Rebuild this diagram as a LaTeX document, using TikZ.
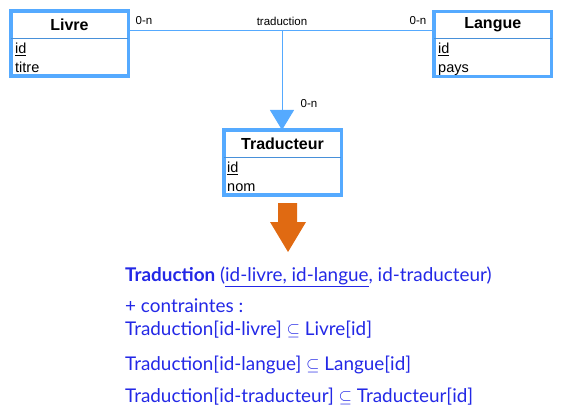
\documentclass[tikz,border=0pt]{standalone}
\usepackage{fontspec}
\setmainfont{Liberation Sans}
\newfontfamily\gill{Lato}
\usetikzlibrary{arrows.meta}

\definecolor{bleu}{RGB}{85,170,255}
\definecolor{bleutexte}{RGB}{35,40,230}
\definecolor{orange}{RGB}{224,106,18}

\tikzset{
  entite/.style={draw=bleu, line width=3.5pt, fill=white, minimum width=117.5pt,
    minimum height=65pt, inner sep=0pt, outer sep=0pt},
  titre/.style={font=\fontsize{16}{18}\selectfont\bfseries, inner sep=0pt},
  attr/.style={font=\fontsize{14.5}{18.5}\selectfont, align=left, inner sep=0pt, anchor=north west},
  separ/.style={draw=bleu!85!black, line width=1.2pt},
  lien/.style={draw=bleu, line width=1pt},
  card/.style={font=\fontsize{11.5}{13}\selectfont, inner sep=0pt},
  relat/.style={font=\gill\fontsize{18.9}{22}\selectfont, text=bleutexte, inner sep=0pt, anchor=base west}
}

\begin{document}
\begin{tikzpicture}[x=1pt,y=-1pt]
  \useasboundingbox (0,0) rectangle (567,414);

  % les trois entites
  \node[entite] (livre) at (69.5,43.75) {};
  \node[titre] (livre-titre) at ([yshift=-13.5pt]livre.north) {Livre};
  \draw[separ] ([yshift=-27.25pt]livre.north west) -- ([yshift=-27.25pt]livre.north east);
  \node[attr] (livre-attr) at (15,43) {\underline{id}\\titre};

  \node[entite] (langue) at (492.75,44) {};
  \node[titre] (langue-titre) at ([yshift=-13.5pt]langue.north) {Langue};
  \draw[separ] ([yshift=-27.25pt]langue.north west) -- ([yshift=-27.25pt]langue.north east);
  \node[attr] (langue-attr) at (438,43) {\underline{id}\\pays};

  \node[entite] (traducteur) at (282.5,162.5) {};
  \node[titre] (traducteur-titre) at ([yshift=-13.5pt]traducteur.north) {Traducteur};
  \draw[separ] ([yshift=-27.25pt]traducteur.north west) -- ([yshift=-27.25pt]traducteur.north east);
  \node[attr] (traducteur-attr) at (227,162) {\underline{id}\\nom};

  % association traduction
  \coordinate (jonction) at (282,31);
  \draw[lien] (livre.east |- jonction) -- (langue.west |- jonction);
  \draw[lien, -{Triangle[width=24pt,length=20pt]}, bleu] (jonction) -- (traducteur.north -| jonction);
  \node[card] (card-livre) at (144,21) {0-n};
  \node[card] (nom-assoc) at (282,21) {traduction};
  \node[card] (card-langue) at (418,21) {0-n};
  \node[card] (card-trad) at (309,104) {0-n};

  % fleche de passage au relationnel
  \fill[orange] (278,203) -- (297,203) -- (297,222) -- (306,222) -- (288,252)
    -- (270,222) -- (278,222) -- cycle;

  % schema relationnel
  \node[relat] (rel) at (125,281) {\textbf{Traduction} (\underline{id-livre, id-langue}, id-traducteur)};
  \node[relat] (contr) at (125,312) {+ contraintes :};
  \node[relat] (c1) at (125,335) {Traduction[id-livre] $\subseteq$ Livre[id]};
  \node[relat] (c2) at (125,370) {Traduction[id-langue] $\subseteq$ Langue[id]};
  \node[relat] (c3) at (125,402) {Traduction[id-traducteur] $\subseteq$ Traducteur[id]};
\end{tikzpicture}
\end{document}
